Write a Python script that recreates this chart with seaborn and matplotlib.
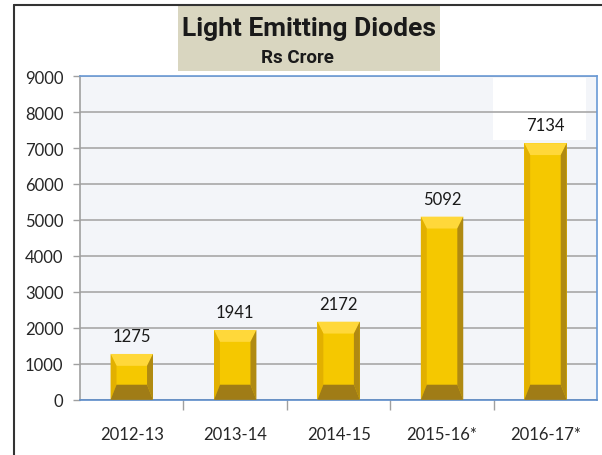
import matplotlib
matplotlib.use("Agg")
import matplotlib.pyplot as plt
import seaborn as sns
import pandas as pd
from matplotlib.patches import Polygon, Rectangle
from matplotlib.lines import Line2D

years = ["2012-13", "2013-14", "2014-15", "2015-16*", "2016-17*"]
values = [1275, 1941, 2172, 5092, 7134]

df = pd.DataFrame({"year": years, "value": values})

sns.set_style("white")
plt.rcParams["font.family"] = ["Lato", "DejaVu Sans"]

fig = plt.figure(figsize=(6.02, 4.56), dpi=100)
ax = fig.add_axes([0.133, 0.121, 0.859, 0.710])
ax.set_facecolor("#f3f5f9")

sns.barplot(data=df, x="year", y="value", color="#f5c800", width=0.41,
            saturation=1, ax=ax, zorder=2)

# bevel look on each bar
for p in list(ax.patches):
    x0, w, h = p.get_x(), p.get_width(), p.get_height()
    p.set_edgecolor("none")
    dx = w * 0.14
    dyt = 330
    dyb = 420
    top = [(x0, h), (x0 + w, h), (x0 + w - dx, h - dyt), (x0 + dx, h - dyt)]
    left = [(x0, 0), (x0, h), (x0 + dx, h - dyt), (x0 + dx, dyb)]
    right = [(x0 + w, 0), (x0 + w, h), (x0 + w - dx, h - dyt), (x0 + w - dx, dyb)]
    bottom = [(x0, 0), (x0 + w, 0), (x0 + w - dx, dyb), (x0 + dx, dyb)]
    for pts, c in [(top, "#ffd83a"), (left, "#e2b000"), (right, "#b08a12"), (bottom, "#a07c16")]:
        ax.add_patch(Polygon(pts, closed=True, facecolor=c, edgecolor="none", zorder=3))

# value labels
for i, v in enumerate(values):
    ax.annotate(str(v), (i, v), xytext=(0, 7), textcoords="offset points",
                ha="center", va="bottom", fontsize=12, color="#1a1a1a", zorder=5)

ax.set_ylim(0, 9000)
ax.set_xlim(-0.5, len(years) - 0.5)
ax.set_yticks(range(0, 9001, 1000))
ax.yaxis.grid(True, color="#a8a8a8", linewidth=1.2)
ax.set_axisbelow(True)

# white patch in the top-right corner, as in the source image
ax.add_patch(Rectangle((3.49, 7230), 0.9, 1720, facecolor="white", edgecolor="none", zorder=0.2))

ax.set_xlabel("")
ax.set_ylabel("")
ax.tick_params(axis="y", length=5, width=1, color="#a0a0a0", pad=7, labelsize=12, direction="out", left=True)
ax.set_xticks([i + 0.5 for i in range(len(years) - 1)], minor=True)
ax.tick_params(axis="x", which="major", length=0, pad=19, labelsize=12)
ax.tick_params(axis="x", which="minor", length=7, width=1, color="#a0a0a0", direction="out", bottom=True)

ax.spines["left"].set_color("#a0a0a0")
ax.spines["bottom"].set_color("#5b8bc9")
ax.spines["top"].set_color("#6a9ad6")
ax.spines["right"].set_color("#6a9ad6")
for s in ax.spines.values():
    s.set_linewidth(1.2)

# title box
fig.patches.append(Rectangle((0.296, 0.842), 0.435, 0.145, transform=fig.transFigure,
                             facecolor="#d9d6c0", edgecolor="none", zorder=1))
fig.text(0.513, 0.937, "Light Emitting Diodes", ha="center", va="center",
         fontsize=19, fontweight="bold", family=["Roboto", "DejaVu Sans"], color="#1a1a1a")
fig.text(0.494, 0.872, "Rs Crore", ha="center", va="center",
         fontsize=13.5, fontweight="bold", family=["Roboto", "DejaVu Sans"], color="#1a1a1a")

# outer frame lines
fig.add_artist(Line2D([0.024, 0.024], [0, 0.987], color="#333333", linewidth=1.5))
fig.add_artist(Line2D([0.024, 1.0], [0.987, 0.987], color="#333333", linewidth=1.5))

fig.savefig("out.png", dpi=100)
